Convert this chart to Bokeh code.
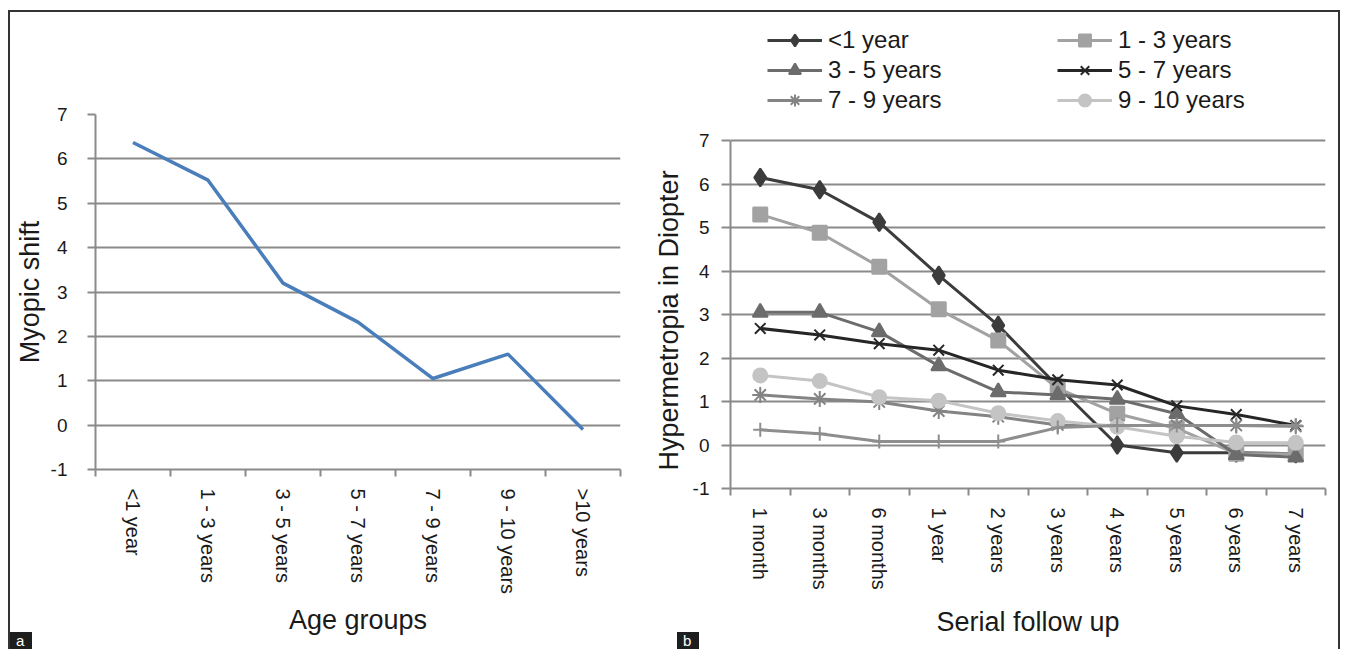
import math
from bokeh.plotting import figure
from bokeh.models import FixedTicker, Range1d, Legend, LegendItem, Div, Title
from bokeh.layouts import row, column
from bokeh.embed import file_html
from bokeh.resources import INLINE

# ---------------- data ----------------
age_groups = ["<1 year", "1 - 3 years", "3 - 5 years", "5 - 7 years",
              "7 - 9 years", "9 - 10 years", ">10 years"]
myopic_shift = [6.37, 5.52, 3.2, 2.32, 1.05, 1.6, -0.1]

follow_up = ["1 month", "3 months", "6 months", "1 year", "2 years",
             "3 years", "4 years", "5 years", "6 years", "7 years"]
hyp_lt1 = [6.15, 5.87, 5.12, 3.9, 2.75, 1.35, 0.0, -0.18, -0.18, -0.2]
hyp_1_3 = [5.3, 4.88, 4.1, 3.12, 2.4, 1.3, 0.72, 0.38, -0.2, -0.2]
hyp_3_5 = [3.05, 3.05, 2.6, 1.82, 1.22, 1.15, 1.05, 0.72, -0.22, -0.28]
hyp_5_7 = [2.68, 2.53, 2.33, 2.18, 1.72, 1.5, 1.38, 0.9, 0.7, 0.45]
hyp_7_9 = [1.15, 1.06, 0.99, 0.78, 0.65, 0.46, 0.45, 0.45, 0.45, 0.43]
hyp_9_10 = [1.6, 1.47, 1.1, 1.02, 0.73, 0.55, 0.42, 0.2, 0.06, 0.05]
hyp_gt10 = [0.35, 0.26, 0.08, 0.08, 0.08, 0.4, 0.45, 0.45, 0.45, 0.45]

series_names = ["<1 year", "1 - 3 years", "3 - 5 years", "5 - 7 years",
                "7 - 9 years", "9 - 10 years", ">10 years"]
y_ticks = [-1, 0, 1, 2, 3, 4, 5, 6, 7]

FONT = "Liberation Sans"
TXT = "#1a1a1a"
GRID = "#8a8a8a"


def style(p, cats, tick_out, standoff, ytitle_standoff, xtitle_standoff):
    n = len(cats)
    p.xaxis.ticker = FixedTicker(ticks=list(range(n)),
                                 minor_ticks=[i - 0.5 for i in range(n + 1)])
    p.xaxis.major_label_overrides = {i: c for i, c in enumerate(cats)}
    p.xaxis.major_label_orientation = -math.pi / 2
    p.xaxis.major_tick_out = 0
    p.xaxis.major_tick_in = 0
    p.xaxis.minor_tick_out = 7
    p.xaxis.minor_tick_in = 0
    p.xaxis.minor_tick_line_color = GRID
    p.xaxis.minor_tick_line_width = 2
    p.xaxis.major_label_standoff = 12
    p.xaxis.major_label_text_font_size = "20px"
    p.xaxis.axis_label_standoff = xtitle_standoff
    p.yaxis.ticker = FixedTicker(ticks=y_ticks)
    p.yaxis.bounds = (-1, 7)
    p.yaxis.major_label_overrides = {-1: "-1"}
    p.yaxis.major_tick_out = tick_out
    p.yaxis.major_tick_in = 0
    p.yaxis.minor_tick_out = 0
    p.yaxis.minor_tick_in = 0
    p.yaxis.major_label_standoff = standoff
    p.yaxis.major_label_text_font_size = "19px"
    p.yaxis.axis_label_standoff = ytitle_standoff
    for ax in (p.xaxis, p.yaxis):
        ax.axis_line_color = GRID
        ax.axis_line_width = 2
        ax.major_tick_line_color = GRID
        ax.major_tick_line_width = 2
        ax.major_label_text_font = FONT
        ax.major_label_text_color = TXT
        ax.axis_label_text_font = FONT
        ax.axis_label_text_font_style = "normal"
        ax.axis_label_text_font_size = "27px"
        ax.axis_label_text_color = TXT
    p.xgrid.visible = False
    p.ygrid.ticker = FixedTicker(ticks=y_ticks)
    p.ygrid.grid_line_color = GRID
    p.ygrid.grid_line_width = 2
    p.outline_line_color = None
    p.background_fill_color = "white"
    p.border_fill_color = "white"
    p.frame_align = False


# ---------------- panel a ----------------
pa = figure(width=635, height=633, output_backend="svg", toolbar_location=None,
            x_range=Range1d(-0.5, len(age_groups) - 0.5), y_range=Range1d(-1, 7),
            min_border_left=85, min_border_right=25, min_border_top=102,
            min_border_bottom=176, x_axis_label="Age groups", y_axis_label="Myopic shift")
style(pa, age_groups, 8, 20, 3, 8)
pa.line(list(range(len(age_groups))), myopic_shift, line_color="#4a7ebb", line_width=3.5)

# ---------------- panel b ----------------
# the frame also holds the legend area above the 7 gridline; the axis line stops at 7
pb = figure(width=693, height=633, output_backend="svg", toolbar_location=None,
            x_range=Range1d(-0.5, len(follow_up) - 0.5), y_range=Range1d(-1, 9.76),
            min_border_left=82, min_border_right=13, min_border_top=8,
            min_border_bottom=157, x_axis_label="Serial follow up")
style(pb, follow_up, 9, 12, 6, 14)
pb.add_layout(Title(text="Hypermetropia in Diopter", align="left", offset=18,
                    standoff=12, text_font=FONT, text_font_size="27px",
                    text_font_style="normal", text_color=TXT), "left")

xs = list(range(len(follow_up)))
specs = [
    (hyp_lt1, "#3c3c3c", "diamond", 18),
    (hyp_1_3, "#a2a2a2", "square", 14),
    (hyp_3_5, "#6c6c6c", "triangle", 15),
    (hyp_5_7, "#262626", "x", 15),
    (hyp_7_9, "#848484", "asterisk", 16),
    (hyp_9_10, "#c4c4c4", "circle", 14),
    (hyp_gt10, "#8e8e8e", "cross", 14),
]
items = []
for (vals, col, mk, sz), name in zip(specs, series_names):
    lr = pb.line(xs, vals, line_color=col, line_width=3)
    sr = pb.scatter(xs, vals, marker=mk, size=sz, fill_color=col,
                    line_color=col, line_width=2)
    items.append(LegendItem(label=name, renderers=[lr, sr]))


def mk_legend(its, x, y):
    return Legend(items=its, location=(x, y), orientation="vertical",
                  label_text_font=FONT, label_text_font_size="24px",
                  label_text_color=TXT, glyph_width=55, glyph_height=30,
                  label_height=28, label_standoff=6, spacing=0, padding=0,
                  margin=0, border_line_color=None, background_fill_alpha=0)


# legend: two columns, row-major order; the 7th series has no entry
pb.add_layout(mk_legend([items[0], items[2], items[4]], 37, 373))
pb.add_layout(mk_legend([items[1], items[3], items[5]], 327, 373))

box = {"background-color": "#1e1e1e", "color": "white", "font-family": FONT,
       "font-size": "15px", "line-height": "17px", "padding-left": "6px"}
da = Div(text="a", width=22, height=17, margin=(-13, 0, 0, 0), styles=box)
db = Div(text="b", width=22, height=17, margin=(-13, 0, 0, 32), styles=box)

layout = row(column(pa, da), column(pb, db),
             styles={"border-top": "2px solid #333", "border-left": "2px solid #333",
                     "border-right": "2px solid #333", "margin-top": "10px",
                     "margin-left": "8px"})

open("out.html", "w").write(file_html(layout, INLINE))
